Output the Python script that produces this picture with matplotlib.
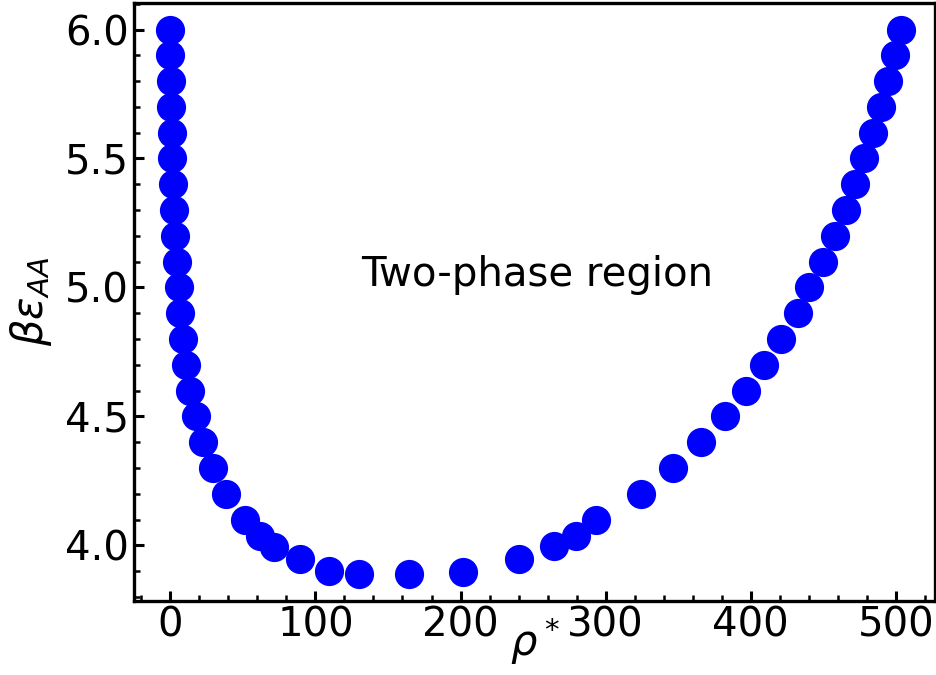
import numpy as np
import matplotlib.pyplot as plt
from matplotlib.ticker import MultipleLocator

# coexistence curve
rho = [0, 0, 0.7, 0.7, 1.1, 1.4, 1.6, 2.3, 3.0, 4.6, 5.7, 6.4, 8.5, 10.8, 13.5,
       17.5, 22.3, 29.4, 38.6, 51.2, 61.5, 71.2, 89.5, 109.5, 130, 164.8, 202,
       240, 264.5, 279.6, 293.4, 324.4, 346.2, 365.7, 382.2, 396.7, 409, 420.8,
       432.3, 440.3, 450, 458.2, 465.3, 471.8, 478.2, 484.4, 489.4, 494.3,
       499.3, 503.4]
beps = [6.0, 5.9, 5.8, 5.7, 5.6, 5.5, 5.4, 5.3, 5.2, 5.1, 5.0, 4.9, 4.8, 4.7, 4.6,
        4.5, 4.4, 4.3, 4.2, 4.1, 4.035, 3.995, 3.946, 3.9, 3.888, 3.888, 3.898,
        3.946, 3.997, 4.035, 4.1, 4.2, 4.3, 4.4, 4.5, 4.6, 4.7, 4.8,
        4.9, 5.0, 5.1, 5.2, 5.3, 5.4, 5.5, 5.6, 5.7, 5.8,
        5.9, 6.0]

fig = plt.figure(figsize=(9.37, 6.75), dpi=100)
ax = fig.add_axes([0.143, 0.1096, 0.998 - 0.143, 0.9956 - 0.1096])

ax.plot(rho, beps, 'o', color='blue', markersize=20)
ax.text(253, 5.05, "Two-phase region", fontsize=29, ha='center', va='center')

ax.set_xlim(-25, 527)
ax.set_ylim(3.784, 6.103)
ax.xaxis.set_major_locator(MultipleLocator(100))
ax.xaxis.set_minor_locator(MultipleLocator(20))
ax.yaxis.set_major_locator(MultipleLocator(0.5))
ax.yaxis.set_minor_locator(MultipleLocator(0.1))
ax.tick_params(which='both', direction='in', top=False, right=False, labelsize=29)
ax.tick_params(which='major', length=7, width=2.2)
ax.tick_params(which='minor', length=4, width=1.8)
for s in ax.spines.values():
    s.set_linewidth(2.4)

ax.set_xlabel(r"$\rho^*$", fontsize=30, labelpad=-22)
ax.set_ylabel(r"$\beta\varepsilon_{AA}$", fontsize=30, labelpad=8)

fig.savefig("out.png")
